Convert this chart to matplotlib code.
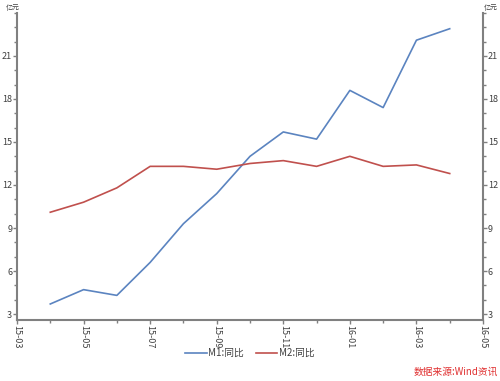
import matplotlib.pyplot as plt
from matplotlib.ticker import MultipleLocator

plt.rcParams['font.family'] = ['Noto Sans CJK SC', 'DejaVu Sans']

# 月份索引: 0 = 15-03 ... 14 = 16-05
tick_labels = ['15-03', '15-05', '15-07', '15-09', '15-11', '16-01', '16-03', '16-05']
months = list(range(1, 14))  # 15-04 .. 16-04
m1 = [3.7, 4.7, 4.3, 6.6, 9.3, 11.4, 14.0, 15.7, 15.2, 18.6, 17.4, 22.1, 22.9]
m2 = [10.1, 10.8, 11.8, 13.3, 13.3, 13.1, 13.5, 13.7, 13.3, 14.0, 13.3, 13.4, 12.8]

blue = '#5b84c0'
red = '#c0504d'
axc = '#808080'

fig = plt.figure(figsize=(5, 3.81), dpi=100)
ax = fig.add_axes([0.034, 0.16, 0.932, 0.806])

l1, = ax.plot(months, m1, color=blue, lw=1.2, label='M1:同比')
l2, = ax.plot(months, m2, color=red, lw=1.2, label='M2:同比')

ax.set_xlim(0, 14)
ax.set_ylim(2.58, 24)
ax.set_xticks(range(0, 15, 2))
ax.set_xticklabels(tick_labels, rotation=270)
ax.xaxis.set_minor_locator(MultipleLocator(1))
ax.set_yticks([3, 6, 9, 12, 15, 18, 21])
ax.yaxis.set_minor_locator(MultipleLocator(1))

ax.spines['top'].set_visible(False)
for s in ['left', 'right', 'bottom']:
    ax.spines[s].set_color(axc)
    ax.spines[s].set_linewidth(1.5)

ax.tick_params(axis='both', which='major', direction='out', length=3, width=1,
               color=axc, labelsize=6.5, labelcolor='#404040', pad=0.5)
ax.tick_params(axis='both', which='minor', direction='out', length=2, width=1, color=axc)
ax.tick_params(axis='y', which='both', left=True, right=True, labelleft=True, labelright=True)

fig.text(0.012, 0.99, '亿元', fontsize=5, color='#404040', va='top', ha='left')
fig.text(0.968, 0.99, '亿元', fontsize=5, color='#404040', va='top', ha='left')

fig.legend(handles=[l1, l2], loc='center', bbox_to_anchor=(0.5, 0.073), ncol=2,
           frameon=False, fontsize=7, handlelength=2.2, handletextpad=0.2,
           columnspacing=1.2, labelcolor='#404040')

fig.text(0.995, 0.01, '数据来源:Wind资讯', fontsize=7, color='#e03030',
         style='italic', ha='right', va='bottom')

fig.savefig('out.png', dpi=100)
